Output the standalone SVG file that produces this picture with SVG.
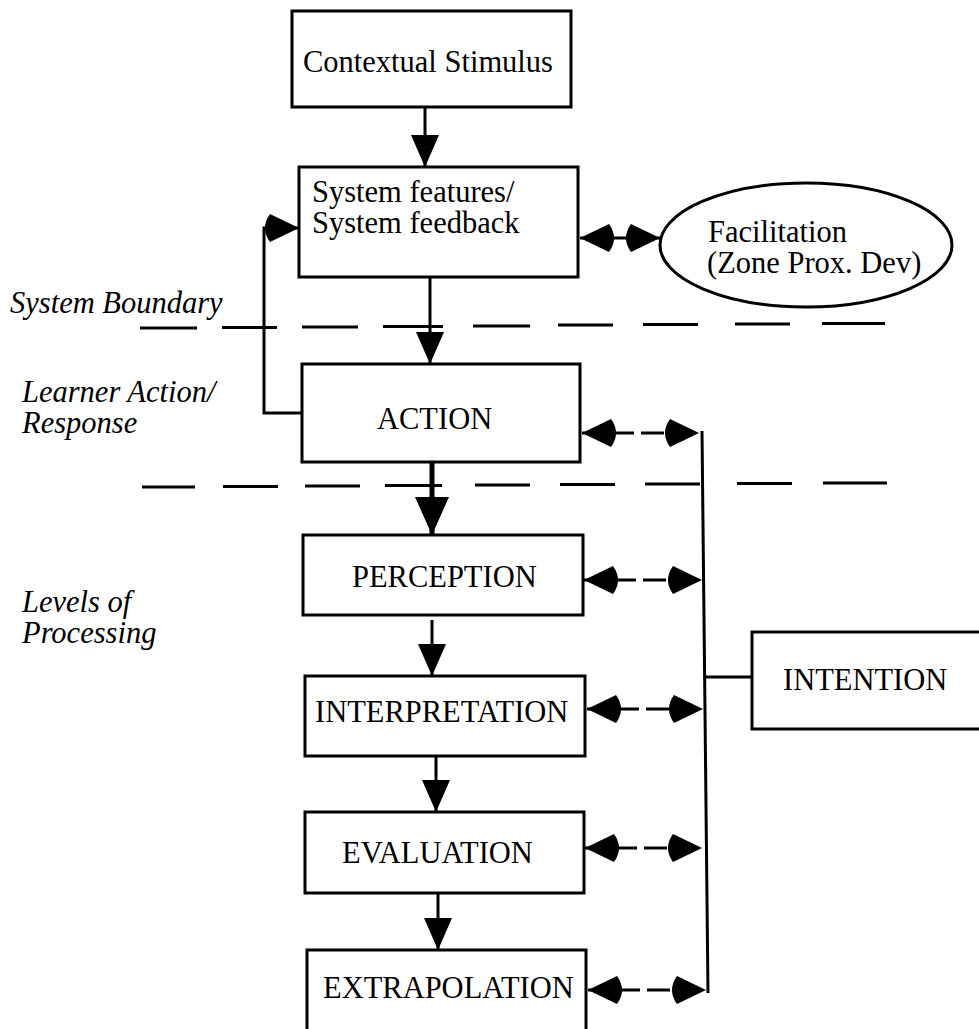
<svg xmlns="http://www.w3.org/2000/svg" width="979" height="1029" viewBox="0 0 979 1029">
  <style>
    .box { fill: #fff; stroke: #000; stroke-width: 3; }
    .lbl { font-family: "Liberation Serif", "Times New Roman", serif; font-size: 30.5px; fill: #000; }
    .side { font-family: "Liberation Serif", "Times New Roman", serif; font-size: 30.5px; font-style: italic; fill: #000; }
    .wire { fill: none; stroke: #000; stroke-width: 3; }
    .flow { fill: none; stroke: #000; stroke-width: 3; marker-end: url(#tri); }
    .both { fill: none; stroke: #000; stroke-width: 3; marker-start: url(#cone); marker-end: url(#cone); }
    .dash { stroke-dasharray: 52 7 23 60; }
    .bound { fill: none; stroke: #000; stroke-width: 3; }
  </style>
  <defs>
    <marker id="tri" viewBox="0 0 32 28" markerWidth="32" markerHeight="28" refX="32" refY="14" orient="auto" markerUnits="userSpaceOnUse">
      <path d="M0,0 L32,14 L0,28 Z" fill="#000"/>
    </marker>
    <marker id="triBig" viewBox="0 0 38 34" markerWidth="38" markerHeight="34" refX="38" refY="17" orient="auto" markerUnits="userSpaceOnUse">
      <path d="M0,0 L38,17 L0,34 Z" fill="#000"/>
    </marker>
    <marker id="cone" viewBox="0 0 34 30" markerWidth="34" markerHeight="30" refX="34" refY="15" orient="auto-start-reverse" markerUnits="userSpaceOnUse">
      <path d="M34,15 L5,1 Q-5,15 5,29 Z" fill="#000"/>
    </marker>
  </defs>

  <!-- side labels -->
  <g id="side-labels">
    <text class="side" x="10" y="313">System Boundary</text>
    <text class="side" x="22" y="402">Learner Action/</text>
    <text class="side" x="22" y="433">Response</text>
    <text class="side" x="22" y="612">Levels of</text>
    <text class="side" x="22" y="643">Processing</text>
  </g>

  <!-- boundary lines -->
  <g id="boundaries">
    <path class="bound" d="M140,328 H197 M222,327.5 H277 M302,327 H358 M383,326.5 H443 M473,326 H530 M558,325 H613 M643,324.5 H698 M735,324 H790 M822,323.5 H885"/>
    <path class="bound" d="M142,487 H195 M223,486.5 H278 M305,486 H360 M385,485.5 H442 M475,485 H530 M560,484.5 H615 M645,484 H700 M737,483.5 H792 M823,483 H887"/>
  </g>

  <!-- connectors -->
  <g id="connectors">
    <path class="flow" d="M425,107 V167"/>
    <path class="flow" d="M430,277 V364"/>
    <path d="M432,462 V535" fill="none" stroke="#000" stroke-width="5" marker-end="url(#triBig)"/>
    <path class="flow" d="M432,620 V676"/>
    <path class="flow" d="M436,756 V812"/>
    <path class="flow" d="M438,893 V950"/>
    <path class="wire" d="M302,413 H264 V228 H299" marker-end="url(#cone)"/>
    <path class="both" d="M580,238 H660"/>
    <path class="both dash" d="M582,433 H699"/>
    <path class="both dash" d="M584,580 H702"/>
    <path class="both dash" d="M587,709 H703"/>
    <path class="both dash" d="M585,848 H702"/>
    <path class="both dash" d="M588,990 H706"/>
    <path class="wire" d="M702,431 L708,993"/>
    <path class="wire" d="M705,677 H752"/>
  </g>

  <g id="contextual-stimulus">
    <rect class="box" x="292" y="11" width="279" height="96"/>
    <text class="lbl" x="303" y="72">Contextual Stimulus</text>
  </g>

  <g id="system-features">
    <rect class="box" x="299" y="167" width="279" height="110"/>
    <text class="lbl" x="312" y="202">System features/</text>
    <text class="lbl" x="312" y="233">System feedback</text>
  </g>

  <g id="facilitation">
    <ellipse cx="806" cy="245" rx="146" ry="62" fill="#fff" stroke="#000" stroke-width="3"/>
    <text class="lbl" x="708" y="242">Facilitation</text>
    <text class="lbl" x="707" y="273">(Zone Prox. Dev)</text>
  </g>

  <g id="action">
    <rect class="box" x="302" y="364" width="278" height="98"/>
    <text class="lbl" x="377" y="429">ACTION</text>
  </g>

  <g id="perception">
    <rect class="box" x="303" y="535" width="280" height="80"/>
    <text class="lbl" x="352" y="587">PERCEPTION</text>
  </g>

  <g id="interpretation">
    <rect class="box" x="305" y="676" width="280" height="80"/>
    <text class="lbl" x="315" y="722">INTERPRETATION</text>
  </g>

  <g id="evaluation">
    <rect class="box" x="305" y="812" width="279" height="81"/>
    <text class="lbl" x="342" y="863">EVALUATION</text>
  </g>

  <g id="extrapolation">
    <rect class="box" x="307" y="950" width="279" height="90"/>
    <text class="lbl" x="323" y="998">EXTRAPOLATION</text>
  </g>

  <g id="intention">
    <rect class="box" x="752" y="632" width="240" height="97"/>
    <text class="lbl" x="783" y="690">INTENTION</text>
  </g>
</svg>
